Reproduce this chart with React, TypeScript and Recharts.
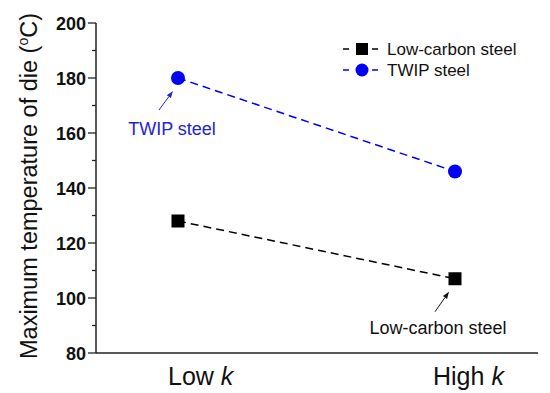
import React from 'react';
import { LineChart, Line, XAxis, YAxis, Legend, ReferenceDot, Label } from 'recharts';

const categories = ['Low', 'High'];
const lowCarbonSteel = [128, 107];
const twipSteel = [180, 146];
const yTicks = [80, 90, 100, 110, 120, 130, 140, 150, 160, 170, 180, 190, 200];

const BLUE = '#0000f5';
const TEXT_BLUE = '#2323d2';
const FONT = '"Liberation Sans", Arial, sans-serif';
const PLOT_LEFT = 96;
const PLOT_BOTTOM = 353;

const data = categories.map((cat, i) => ({ cat, low: lowCarbonSteel[i], twip: twipSteel[i] }));

const YTick = ({ y, payload }: any) => {
    const major = payload.value % 20 === 0;
    return (
        <g>
            <line x1={PLOT_LEFT - (major ? 8 : 4)} x2={PLOT_LEFT} y1={y} y2={y} stroke="#222" strokeWidth={1.3} />
            {major && (
                <text x={PLOT_LEFT - 10} y={y} dy={6.5} textAnchor="end" fontSize={18} fontWeight="bold" fill="#111" fontFamily={FONT}>
                    {payload.value}
                </text>
            )}
        </g>
    );
};

// labels sit a bit right of the data points in the original
const X_SHIFT: Record<string, number> = { Low: -10, High: -22 };

const XTick = ({ x, payload }: any) => (
    <text x={x + (X_SHIFT[payload.value] ?? 0)} y={PLOT_BOTTOM + 32} fontSize={25} fill="#111" fontFamily={FONT}>
        {payload.value}{' '}<tspan fontStyle="italic">k</tspan>
    </text>
);

const YLabel = ({ viewBox }: any) => {
    const cx = 29;
    const cy = viewBox.y + viewBox.height / 2 - 2;
    return (
        <text x={cx} y={cy} transform={`rotate(-90 ${cx} ${cy})`} textAnchor="middle" dy={8} fontSize={23.5} fill="#111" fontFamily={FONT}>
            Maximum temperature of die (<tspan dy={-9} fontSize={14}>o</tspan><tspan dy={9}>C)</tspan>
        </text>
    );
};

const SquareDot = ({ cx, cy }: any) => (
    <rect x={cx - 6.5} y={cy - 6.5} width={13} height={13} fill="#000" />
);

const Callout = ({ cx, cy, tip, tail, textPos, color, text }: any) => {
    const tx = cx + tip[0], ty = cy + tip[1];
    const sx = cx + tail[0], sy = cy + tail[1];
    const len = Math.hypot(tx - sx, ty - sy);
    const ux = (tx - sx) / len, uy = (ty - sy) / len;
    const bx = tx - ux * 7, by = ty - uy * 7;
    const head = `${tx},${ty} ${bx - uy * 2.5},${by + ux * 2.5} ${bx + uy * 2.5},${by - ux * 2.5}`;
    return (
        <g>
            <line x1={sx} y1={sy} x2={bx} y2={by} stroke={color} strokeWidth={1} />
            <polygon points={head} fill={color} />
            <text x={cx + textPos[0]} y={cy + textPos[1]} textAnchor="middle" fontSize={18} fill={color} fontFamily={FONT}>
                {text}
            </text>
        </g>
    );
};

const LegendBox = () => (
    <svg width={180} height={46} style={{ fontFamily: FONT }}>
        <line x1={3} x2={9} y1={11} y2={11} stroke="#000" strokeWidth={1.5} />
        <line x1={32} x2={38} y1={11} y2={11} stroke="#000" strokeWidth={1.5} />
        <rect x={16} y={5} width={12} height={12} fill="#000" />
        <text x={47} y={11} dy={6} fontSize={17} fill="#111">Low-carbon steel</text>
        <line x1={3} x2={9} y1={32} y2={32} stroke={BLUE} strokeWidth={1.5} />
        <line x1={32} x2={38} y1={32} y2={32} stroke={BLUE} strokeWidth={1.5} />
        <circle cx={22} cy={32} r={6.5} fill={BLUE} />
        <text x={47} y={32} dy={6} fontSize={17} fill="#111">TWIP steel</text>
    </svg>
);

const App: React.FC = () => (
    <div style={{ position: 'absolute', left: 0, top: 0, width: 550, height: 393, background: '#fff', fontFamily: FONT }}>
        <LineChart width={550} height={393} data={data} margin={{ top: 23, right: 12, left: 0, bottom: 0 }}>
            <XAxis dataKey="cat" padding={{ left: 82, right: 83 }} height={40} axisLine={{ stroke: '#222', strokeWidth: 1.5 }} tickLine={false} tick={<XTick />} interval={0} />
            <XAxis xAxisId="top" dataKey="cat" orientation="top" height={0} axisLine={{ stroke: '#222', strokeWidth: 1.5 }} tick={false} tickLine={false} />
            <YAxis domain={[80, 200]} ticks={yTicks} width={96} axisLine={{ stroke: '#222', strokeWidth: 1.5 }} tickLine={false} tick={<YTick />} interval={0}>
                <Label content={<YLabel />} />
            </YAxis>
            <YAxis yAxisId="right" orientation="right" domain={[80, 200]} width={0} axisLine={{ stroke: '#222', strokeWidth: 1.5 }} tick={false} tickLine={false} />
            <Legend layout="vertical" align="center" verticalAlign="middle" content={<LegendBox />} wrapperStyle={{ top: 38, left: 340, width: 180, height: 46 }} />
            <Line dataKey="low" name="Low-carbon steel" stroke="#000" strokeWidth={1.5} strokeDasharray="8 5" dot={<SquareDot />} isAnimationActive={false} />
            <Line dataKey="twip" name="TWIP steel" stroke={BLUE} strokeWidth={1.5} strokeDasharray="8 5" dot={{ r: 7, fill: BLUE, stroke: BLUE, strokeWidth: 0 }} isAnimationActive={false} />
            <ReferenceDot x="Low" y={twipSteel[0]} r={0} shape={(p: any) => (
                <Callout {...p} tip={[-5, 13]} tail={[-19, 32]} textPos={[-6, 57]} color={TEXT_BLUE} text="TWIP steel" />
            )} />
            <ReferenceDot x="High" y={lowCarbonSteel[1]} r={0} shape={(p: any) => (
                <Callout {...p} tip={[-6, 13]} tail={[-20, 33]} textPos={[-17, 55]} color="#111" text="Low-carbon steel" />
            )} />
        </LineChart>
    </div>
);

export default App;
